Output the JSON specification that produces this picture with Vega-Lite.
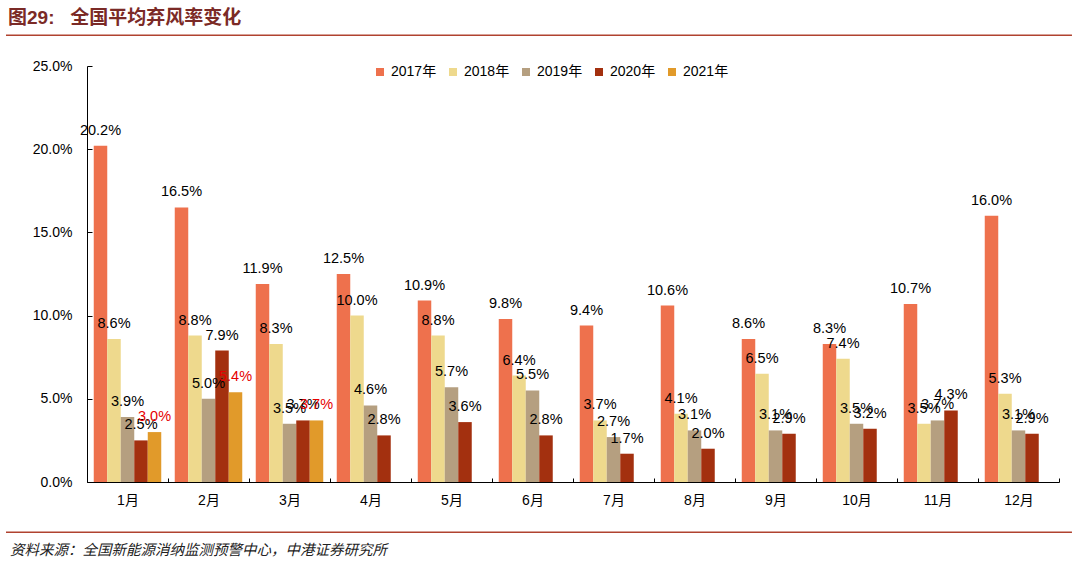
{
  "$schema": "https://vega.github.io/schema/vega-lite/v6.json",
  "description": "图29 全国平均弃风率变化 - grouped bars by month and year",
  "width": 972,
  "height": 416,
  "autosize": {"type": "none"},
  "padding": {"left": 87, "top": 66, "right": 21, "bottom": 79},
  "background": "white",
  "datasets": {
    "rates": [
      {"month": "1月", "year": "2017年", "rate": 0.202},
      {"month": "1月", "year": "2018年", "rate": 0.086},
      {"month": "1月", "year": "2019年", "rate": 0.039},
      {"month": "1月", "year": "2020年", "rate": 0.025},
      {"month": "1月", "year": "2021年", "rate": 0.030},
      {"month": "2月", "year": "2017年", "rate": 0.165},
      {"month": "2月", "year": "2018年", "rate": 0.088},
      {"month": "2月", "year": "2019年", "rate": 0.050},
      {"month": "2月", "year": "2020年", "rate": 0.079},
      {"month": "2月", "year": "2021年", "rate": 0.054},
      {"month": "3月", "year": "2017年", "rate": 0.119},
      {"month": "3月", "year": "2018年", "rate": 0.083},
      {"month": "3月", "year": "2019年", "rate": 0.035},
      {"month": "3月", "year": "2020年", "rate": 0.037},
      {"month": "3月", "year": "2021年", "rate": 0.037},
      {"month": "4月", "year": "2017年", "rate": 0.125},
      {"month": "4月", "year": "2018年", "rate": 0.100},
      {"month": "4月", "year": "2019年", "rate": 0.046},
      {"month": "4月", "year": "2020年", "rate": 0.028},
      {"month": "5月", "year": "2017年", "rate": 0.109},
      {"month": "5月", "year": "2018年", "rate": 0.088},
      {"month": "5月", "year": "2019年", "rate": 0.057},
      {"month": "5月", "year": "2020年", "rate": 0.036},
      {"month": "6月", "year": "2017年", "rate": 0.098},
      {"month": "6月", "year": "2018年", "rate": 0.064},
      {"month": "6月", "year": "2019年", "rate": 0.055},
      {"month": "6月", "year": "2020年", "rate": 0.028},
      {"month": "7月", "year": "2017年", "rate": 0.094},
      {"month": "7月", "year": "2018年", "rate": 0.037},
      {"month": "7月", "year": "2019年", "rate": 0.027},
      {"month": "7月", "year": "2020年", "rate": 0.017},
      {"month": "8月", "year": "2017年", "rate": 0.106},
      {"month": "8月", "year": "2018年", "rate": 0.041},
      {"month": "8月", "year": "2019年", "rate": 0.031},
      {"month": "8月", "year": "2020年", "rate": 0.020},
      {"month": "9月", "year": "2017年", "rate": 0.086},
      {"month": "9月", "year": "2018年", "rate": 0.065},
      {"month": "9月", "year": "2019年", "rate": 0.031},
      {"month": "9月", "year": "2020年", "rate": 0.029},
      {"month": "10月", "year": "2017年", "rate": 0.083},
      {"month": "10月", "year": "2018年", "rate": 0.074},
      {"month": "10月", "year": "2019年", "rate": 0.035},
      {"month": "10月", "year": "2020年", "rate": 0.032},
      {"month": "11月", "year": "2017年", "rate": 0.107},
      {"month": "11月", "year": "2018年", "rate": 0.035},
      {"month": "11月", "year": "2019年", "rate": 0.037},
      {"month": "11月", "year": "2020年", "rate": 0.043},
      {"month": "12月", "year": "2017年", "rate": 0.160},
      {"month": "12月", "year": "2018年", "rate": 0.053},
      {"month": "12月", "year": "2019年", "rate": 0.031},
      {"month": "12月", "year": "2020年", "rate": 0.029}
    ]
  },
  "layer": [
    {
      "data": {"name": "rates"},
      "encoding": {
        "x": {
          "field": "month",
          "type": "nominal",
          "sort": ["1月", "2月", "3月", "4月", "5月", "6月", "7月", "8月", "9月", "10月", "11月", "12月"],
          "scale": {"paddingInner": 0, "paddingOuter": 0},
          "axis": {
            "title": null,
            "labelAngle": 0,
            "tickBand": "extent",
            "tickSize": -4,
            "labelPadding": 15
          }
        },
        "xOffset": {
          "field": "year",
          "type": "nominal",
          "scale": {
            "domain": ["2017年", "2018年", "2019年", "2020年", "2021年"],
            "paddingInner": 0,
            "paddingOuter": 0.5
          }
        },
        "y": {
          "field": "rate",
          "type": "quantitative",
          "scale": {"domain": [0, 0.25], "nice": false},
          "axis": {
            "title": null,
            "format": ".1%",
            "values": [0, 0.05, 0.1, 0.15, 0.2, 0.25],
            "tickSize": -5,
            "labelPadding": 20
          }
        }
      },
      "layer": [
        {
          "mark": {"type": "bar"},
          "encoding": {
            "color": {
              "field": "year",
              "type": "nominal",
              "scale": {
                "domain": ["2017年", "2018年", "2019年", "2020年", "2021年"],
                "range": ["#EE714D", "#EED98D", "#B59F80", "#A3300F", "#E19A2A"]
              },
              "legend": {
                "title": null,
                "orient": "none",
                "legendX": 286,
                "legendY": -1,
                "direction": "horizontal",
                "symbolType": "square",
                "symbolSize": 64,
                "symbolStrokeWidth": 0,
                "labelFontSize": 14,
                "labelOffset": 4,
                "columnPadding": 9,
                "padding": 0
              }
            }
          }
        },
        {
          "mark": {
            "type": "text",
            "baseline": "alphabetic",
            "dy": -11,
            "fontSize": 14.5,
            "font": "Liberation Sans, Noto Sans CJK SC"
          },
          "encoding": {
            "text": {"field": "rate", "type": "quantitative", "format": ".1%"},
            "color": {
              "condition": {"test": "datum.year === '2021年'", "value": "#E60000"},
              "value": "#000000"
            }
          }
        }
      ]
    },
    {
      "data": {"values": [{}]},
      "encoding": {
        "x": {
          "datum": -1.0,
          "type": "quantitative",
          "scale": {"domain": [0, 12], "nice": false, "zero": false},
          "axis": null
        }
      },
      "layer": [
        {
          "mark": {
            "type": "text",
            "align": "left",
            "baseline": "middle",
            "fontSize": 19,
            "fontWeight": "bold",
            "font": "Liberation Sans, Noto Sans CJK SC",
            "color": "#7B2A26"
          },
          "encoding": {
            "x": {"datum": -0.975, "type": "quantitative"},
            "y": {"datum": 0.2786, "type": "quantitative", "title": null},
            "text": {"value": "图29:\u00a0\u00a0\u00a0全国平均弃风率变化"}
          }
        },
        {
          "mark": {"type": "rule", "color": "#B0422F", "strokeWidth": 1.5},
          "encoding": {
            "x2": {"datum": 12.16},
            "y": {"datum": 0.2685, "type": "quantitative", "title": null}
          }
        },
        {
          "mark": {"type": "rule", "color": "#B0422F", "strokeWidth": 1.5},
          "encoding": {
            "x2": {"datum": 12.16},
            "y": {"datum": -0.0302, "type": "quantitative", "title": null}
          }
        },
        {
          "mark": {
            "type": "text",
            "align": "left",
            "baseline": "middle",
            "fontSize": 14.5,
            "fontStyle": "italic",
            "font": "Noto Sans CJK SC",
            "color": "#222222"
          },
          "encoding": {
            "x": {"datum": -0.95, "type": "quantitative"},
            "y": {"datum": -0.0415, "type": "quantitative", "title": null},
            "text": {"value": "资料来源：全国新能源消纳监测预警中心，中港证券研究所"}
          }
        }
      ]
    }
  ],
  "resolve": {"scale": {"x": "independent"}},
  "config": {
    "view": {"stroke": null},
    "axis": {
      "grid": false,
      "domainColor": "#000000",
      "tickColor": "#000000",
      "labelColor": "#000000",
      "labelFont": "Liberation Sans, Noto Sans CJK SC",
      "labelFontSize": 14
    },
    "legend": {
      "labelFont": "Liberation Sans, Noto Sans CJK SC",
      "labelColor": "#000000"
    }
  }
}
